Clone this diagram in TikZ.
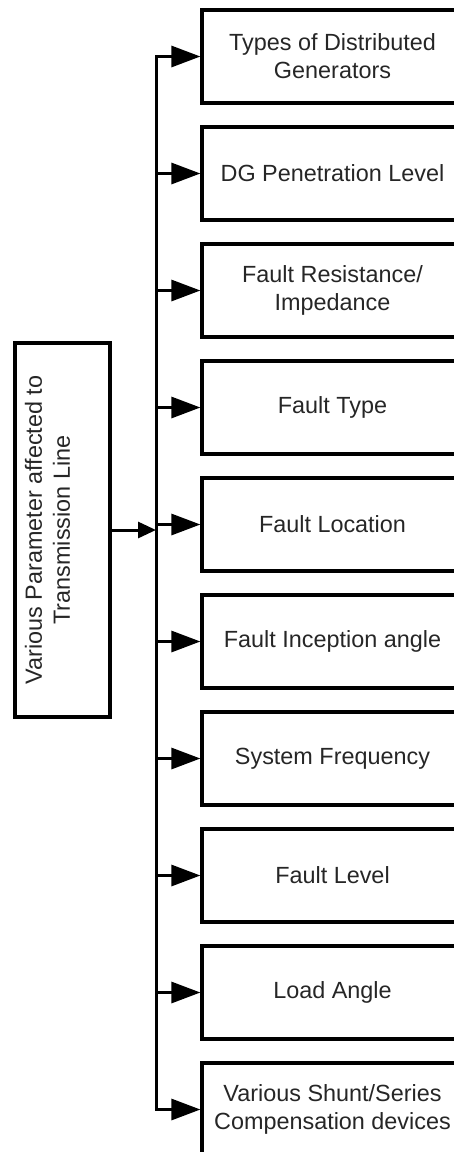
\documentclass[tikz,border=0pt]{standalone}
\usepackage{fontspec}
\setmainfont{Liberation Sans}
\usetikzlibrary{arrows.meta}
\begin{document}
\begin{tikzpicture}[x=1pt,y=-1pt,
  every node/.style={font=\fontsize{23.4}{28}\selectfont, align=center, text=black!85},
  itembox/.style={draw=black, line width=3.2pt, minimum width=261pt, minimum height=93pt, inner sep=0pt},
  srcbox/.style={draw=black, line width=3.2pt, minimum width=95pt, minimum height=374pt, inner sep=0pt},
  wire/.style={line width=3pt, line join=miter},
  bigtip/.style={-{Triangle[length=29pt,width=21pt]}},
  smalltip/.style={-{Triangle[length=18pt,width=16pt]}}
]
\useasboundingbox (0,0) rectangle (454,1152);
\clip (0,0) rectangle (454,1152);

% source box with rotated caption
\node[srcbox] (src) at (62.5,530) {};
\node[rotate=90] (srctext) at (47.5,530) {Various Parameter affected to\\Transmission Line};

% x position of the distribution bus
\coordinate (busx) at (156,0);

% parameter boxes
\foreach \i/\t in {1/{Types of Distributed\\Generators},
                   2/{DG Penetration Level},
                   3/{Fault Resistance/\\Impedance},
                   4/{Fault Type},
                   5/{Fault Location},
                   6/{Fault Inception angle},
                   7/{System Frequency},
                   8/{Fault Level},
                   9/{Load Angle},
                   10/{Various Shunt/Series\\Compensation devices}}{
  \node[itembox] (b\i) at (332.5,{56.5+117*(\i-1)}) {\t};
}

% bus with the first and last branches
\draw[wire, {Triangle[length=29pt,width=21pt]}-{Triangle[length=29pt,width=21pt]}]
  (b1.west) -- (b1.west -| busx) -- (b10.west -| busx) -- (b10.west);

% middle branches
\foreach \i in {2,...,9}{
  \draw[wire, bigtip] (b\i.west -| busx) -- (b\i.west);
}

% feed from the source box into the bus
\draw[wire, smalltip] (src.east) -- (src.east -| busx);
\end{tikzpicture}
\end{document}
